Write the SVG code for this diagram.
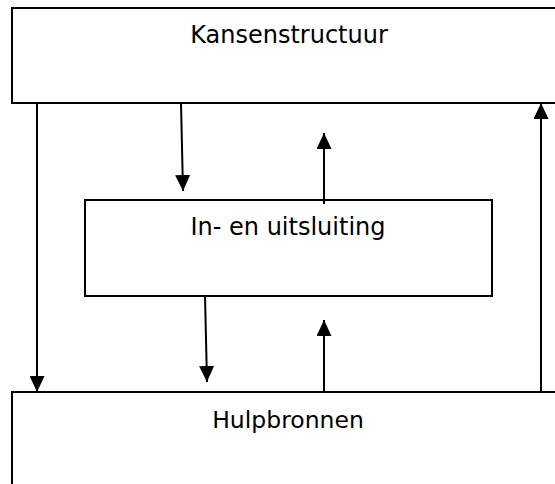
<svg xmlns="http://www.w3.org/2000/svg" width="555" height="484" viewBox="0 0 555 484">
<style>
.box{fill:#fff;stroke:#000;stroke-width:2}
.lbl{font-family:"DejaVu Sans",Verdana,sans-serif;font-size:24px;fill:#000;text-anchor:middle}
.con{stroke:#000;stroke-width:2;fill:none;marker-end:url(#ah)}
</style>
<defs>
<marker id="ah" viewBox="0 0 16 15" refX="16" refY="7.5" markerWidth="16" markerHeight="15" markerUnits="userSpaceOnUse" orient="auto">
<path d="M0,0 L16,7.5 L0,15 Z" fill="#000"/>
</marker>
</defs>
<rect width="555" height="484" fill="#fff"/>
<g id="kansenstructuur">
<rect class="box" x="12" y="8" width="560" height="95"/>
<text class="lbl" x="289" y="43">Kansenstructuur</text>
</g>
<g id="in-en-uitsluiting">
<rect class="box" x="85" y="200" width="407" height="96"/>
<text class="lbl" x="288" y="235">In- en uitsluiting</text>
</g>
<g id="hulpbronnen">
<rect class="box" x="12" y="392" width="560" height="110"/>
<text class="lbl" x="288" y="428" style="font-size:23.5px">Hulpbronnen</text>
</g>
<g id="connectors">
<line class="con" x1="37" y1="103" x2="37" y2="392"/>
<line class="con" x1="181" y1="103" x2="183" y2="191"/>
<line class="con" x1="324" y1="204" x2="324" y2="133"/>
<line class="con" x1="205" y1="296" x2="207" y2="382"/>
<line class="con" x1="324" y1="392" x2="324" y2="320"/>
<line class="con" x1="541" y1="392" x2="541" y2="103"/>
</g>
</svg>
